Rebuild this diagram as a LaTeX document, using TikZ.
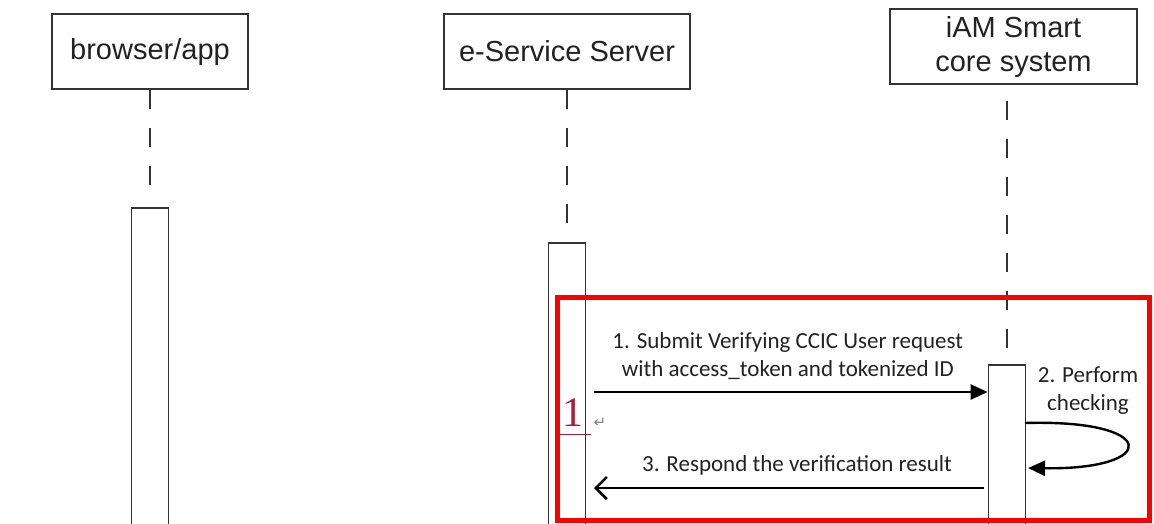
\documentclass[tikz,border=0pt]{standalone}
\usepackage{fontspec}
\setmainfont{Liberation Sans}
\newfontfamily\calibrifont{Carlito}
\newfontfamily\arrowsymfont{DejaVu Sans}
\newfontfamily\timesfont{Liberation Serif}
\usetikzlibrary{arrows.meta,positioning}
\definecolor{boxgray}{HTML}{333333}
\definecolor{markred}{HTML}{A3203E}
\definecolor{textgray}{HTML}{222222}

\begin{document}
\begin{tikzpicture}[x=1pt,y=-1pt,every text node part/.style={align=center},
actor/.style={draw=boxgray,line width=2pt,fill=white,inner sep=0pt,minimum height=75pt,text=textgray,font=\fontsize{29}{34}\selectfont},
actbox/.style={draw=boxgray,line width=1.8pt,fill=white,inner sep=0pt,minimum width=37pt,minimum height=340pt,anchor=north},
lifeline/.style={draw=boxgray,line width=1.8pt,dash pattern=on 19pt off 19pt},
msgtext/.style={text=textgray,font=\calibrifont\fontsize{23}{28}\selectfont,inner sep=2pt},
callmsg/.style={line width=2.4pt,-{Triangle[length=17pt,width=15pt]}},
replymsg/.style={line width=2.6pt,-{Straight Barb[length=11pt,width=22pt,line width=2.6pt]}}]
\useasboundingbox (0,0) rectangle (1154,523);
\clip (0,0) rectangle (1154,523);
% participants
\node[actor,minimum width=196pt] (browser) at (150,51.5) {browser/app};
\node[actor,minimum width=246pt] (eservice) at (567,51.5) {e-Service Server};
\node[actor,minimum width=247pt] (iam) at (1013.5,46.5) {iAM Smart\\core system};
% activations
\node[actbox] (actB) at (150,207) {};
\node[actbox] (actE) at (567,242) {};
\node[actbox] (actI) at (1007,364) {};
\coordinate (browserEnd) at (150,189);
\coordinate (eserviceEnd) at (567,228);
\draw[lifeline] (browser.south) -- (browserEnd);
\draw[lifeline] (eservice.south) -- (eserviceEnd);
\draw[lifeline,dash phase=22pt] (actI.north |- iam.south) -- (actI.north);
% highlighted part
\draw[red,line width=5pt] (557.5,297) rectangle (1149.5,520.5);
\coordinate (m1s) at (594,392);
\coordinate (loopS) at (1025,423);
\coordinate (loopE) at (1028,468);
\coordinate (m3s) at (984,488);
\coordinate (m3e) at (594,488);
\draw[callmsg] (m1s) -- node[msgtext,above=9pt,xshift=-3pt] {1. Submit Verifying CCIC User request\\with access\_token and tokenized ID} (actI.west |- m1s);
\node[msgtext] (check) at (1088,391) {2. Perform\\checking};
\draw[callmsg] (loopS) .. controls (1160,419) and (1160,470) .. (loopE);
\draw[replymsg] (m3s) -- node[msgtext,above=10pt,xshift=8pt] {3. Respond the verification result} (m3e);
% word marks
\node[text=markred,font=\timesfont\fontsize{42}{42}\selectfont,inner sep=0pt] (mark) at (573,413) {1};
\draw[markred,line width=1pt] (560,434) -- (591,434);
\node[text=gray,font=\arrowsymfont\fontsize{15}{15}\selectfont,inner sep=0pt] (ret) at (600,423) {↵};
\end{tikzpicture}
\end{document}
